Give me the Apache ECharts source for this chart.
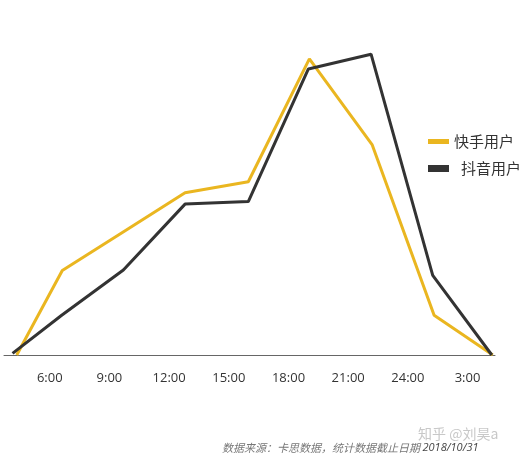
<!DOCTYPE html>
<html>
<head>
<meta charset="utf-8">
<script src="https://cdn.jsdelivr.net/npm/echarts@6/dist/echarts.min.js"></script>
<style>
html,body{margin:0;padding:0;background:#fff;}
#c{width:524px;height:460px;}
</style>
</head>
<body>
<div id="c"></div>
<script>
// Data (x in hours, 27 = 3:00 next day; y in relative %)
var seriesNames = ['快手用户', '抖音用户'];
var kuaishouHours = [4.34, 6.63, 9.73, 12.80, 15.98, 19.05, 22.21, 25.32, 28.27];
var kuaishouValues = [0, 26.8, 39.2, 51.5, 55.0, 94.0, 66.7, 12.6, 0];
var douyinHours = [4.13, 6.60, 9.70, 12.80, 15.98, 19.00, 22.15, 25.25, 28.22];
var douyinValues = [0.5, 12.6, 27.0, 47.9, 48.7, 90.8, 95.5, 25.3, 0];
var tickHours = [6, 9, 12, 15, 18, 21, 24, 27];
var tickLabels = ['6:00', '9:00', '12:00', '15:00', '18:00', '21:00', '24:00', '3:00'];
var sourceText = '数据来源：卡思数据，统计数据截止日期 ';
var sourceDate = '2018/10/31';
var watermark = '知乎 @刘昊a';

function pairs(xs, ys) { return xs.map(function (x, i) { return [x, ys[i]]; }); }

var legendText = {fontFamily: 'Noto Sans CJK SC', fontSize: 15, color: '#333333'};
var chart = echarts.init(document.getElementById('c'), null, {renderer: 'canvas'});
chart.setOption({
  backgroundColor: '#ffffff',
  animation: false,
  grid: {left: 4, right: 29, top: 40, bottom: 105, containLabel: false},
  xAxis: {
    type: 'value', min: 3.70, max: 28.38,
    splitLine: {show: false},
    axisTick: {show: false},
    axisLine: {show: true, lineStyle: {color: '#666666', width: 1}},
    axisLabel: {
      customValues: tickHours,
      margin: 17,
      fontFamily: 'Open Sans', fontSize: 13, color: '#333333',
      formatter: function (v) { var i = tickHours.indexOf(v); return i >= 0 ? tickLabels[i] : ''; }
    }
  },
  yAxis: {type: 'value', min: 0, max: 100, show: false, splitLine: {show: false}},
  legend: [
    {left: 428, top: 134, padding: 0, itemWidth: 21, itemHeight: 5, icon: 'rect', itemGap: 0,
     textStyle: legendText, data: [seriesNames[0]]},
    {left: 428, top: 161, padding: 0, itemWidth: 21, itemHeight: 7, icon: 'rect', itemGap: 0,
     textStyle: Object.assign({}, legendText, {padding: [3, 0, 0, 7]}), data: [seriesNames[1]]}
  ],
  series: [
    {name: seriesNames[0], type: 'line', data: pairs(kuaishouHours, kuaishouValues),
     showSymbol: false, symbol: 'none', clip: false,
     lineStyle: {color: '#EAB620', width: 3}, itemStyle: {color: '#EAB620'}},
    {name: seriesNames[1], type: 'line', data: pairs(douyinHours, douyinValues),
     showSymbol: false, symbol: 'none', clip: false,
     lineStyle: {color: '#333333', width: 3}, itemStyle: {color: '#333333'}}
  ],
  graphic: [
    {type: 'text', left: 418, top: 427, z: 10,
     style: {text: watermark, fontFamily: 'Noto Sans CJK SC', fontSize: 14, fill: '#c8c8c8'}},
    {type: 'text', left: 222, top: 442, z: 11,
     style: {
       text: '{a|' + sourceText + '}{b|' + sourceDate + '}',
       rich: {
         a: {fontFamily: 'Noto Sans CJK SC', fontSize: 11, fontStyle: 'italic', fill: '#777777'},
         b: {fontFamily: 'Open Sans', fontSize: 11, fontStyle: 'italic', fill: '#444444'}
       }
     }}
  ]
});
</script>
</body>
</html>
